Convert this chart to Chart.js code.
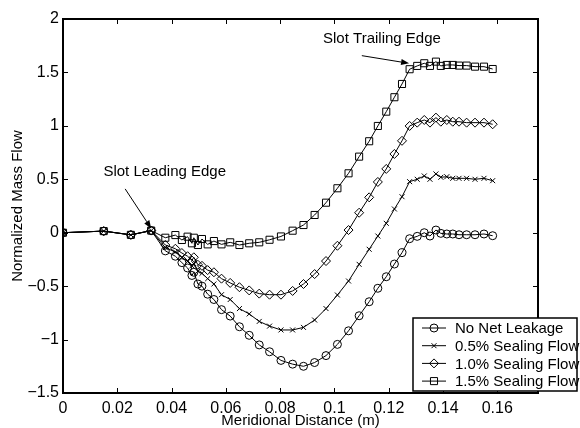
<!DOCTYPE html>
<html>
<head>
<meta charset="utf-8">
<script src="https://cdn.jsdelivr.net/npm/chart.js@4/dist/chart.umd.min.js"></script>
<style>
  html, body { margin: 0; padding: 0; background: #fff; }
</style>
</head>
<body>
<canvas id="flowChart" width="580" height="428"></canvas>
<script>
// Meridional distance (m), shared by all four cases
const meridional = [0, 0.015, 0.025, 0.0325, 0.0377, 0.0414, 0.0438, 0.0459, 0.0475, 0.0482,
  0.0497, 0.0512, 0.0533, 0.0556, 0.0584, 0.0616, 0.0650, 0.0686, 0.0723, 0.0761,
  0.0803, 0.0846, 0.0886, 0.0927, 0.0969, 0.1011, 0.1052, 0.1091, 0.1128, 0.1160,
  0.1191, 0.1221, 0.1249, 0.1277, 0.1305, 0.1331, 0.1352, 0.1374, 0.1392, 0.1414,
  0.1436, 0.1459, 0.1487, 0.1518, 0.1551, 0.1583];

const noNetLeakage = [0, 0.015, -0.02, 0.02, -0.17, -0.22, -0.28, -0.33, -0.40, -0.37,
  -0.48, -0.50, -0.575, -0.625, -0.72, -0.78, -0.88, -0.96, -1.05, -1.114,
  -1.195, -1.23, -1.25, -1.215, -1.15, -1.045, -0.918, -0.777, -0.646, -0.52,
  -0.412, -0.293, -0.187, -0.056, -0.034, 0.0, -0.031, 0.025, -0.006, -0.012,
  -0.012, -0.019, -0.019, -0.019, -0.012, -0.028];

const sealing05 = [0, 0.015, -0.02, 0.02, -0.14, -0.18, -0.23, -0.27, -0.31, -0.29,
  -0.36, -0.38, -0.43, -0.48, -0.58, -0.625, -0.71, -0.76, -0.83, -0.874,
  -0.91, -0.91, -0.886, -0.817, -0.71, -0.583, -0.452, -0.296, -0.155, -0.031,
  0.088, 0.222, 0.337, 0.478, 0.50, 0.531, 0.50, 0.55, 0.519, 0.524,
  0.509, 0.509, 0.509, 0.50, 0.509, 0.487];

const sealing10 = [0, 0.015, -0.02, 0.02, -0.115, -0.15, -0.19, -0.22, -0.26, -0.23,
  -0.30, -0.31, -0.35, -0.37, -0.43, -0.47, -0.51, -0.54, -0.57, -0.58,
  -0.58, -0.545, -0.48, -0.387, -0.265, -0.122, 0.025, 0.187, 0.331, 0.475,
  0.597, 0.737, 0.86, 0.999, 1.03, 1.055, 1.03, 1.077, 1.039, 1.055,
  1.039, 1.039, 1.03, 1.03, 1.03, 1.015];

const sealing15 = [0, 0.015, -0.02, 0.02, -0.047, -0.022, -0.068, -0.037, -0.099, -0.047,
  -0.115, -0.059, -0.109, -0.078, -0.109, -0.09, -0.115, -0.099, -0.09, -0.066,
  -0.035, 0.019, 0.072, 0.166, 0.281, 0.416, 0.556, 0.712, 0.856, 0.999,
  1.133, 1.268, 1.392, 1.53, 1.561, 1.586, 1.561, 1.601, 1.561, 1.57,
  1.57, 1.564, 1.564, 1.554, 1.554, 1.532];

const seriesLabels = ['No Net Leakage', '0.5% Sealing Flow', '1.0% Sealing Flow', '1.5% Sealing Flow'];
const xTicks = [0, 0.02, 0.04, 0.06, 0.08, 0.1, 0.12, 0.14, 0.16];
const yTicks = [-1.5, -1, -0.5, 0, 0.5, 1, 1.5, 2];

const FONT = 'Liberation Sans, Arial, Helvetica, sans-serif';

function toPoints(ys) {
    return meridional.map((x, i) => ({ x: x, y: ys[i] }));
}

function series(label, ys, style, radius) {
    return {
        label: label,
        data: toPoints(ys),
        showLine: true,
        borderColor: '#000',
        borderWidth: 1,
        backgroundColor: 'rgba(0,0,0,0)',
        pointStyle: style,
        pointRadius: radius,
        pointBorderColor: '#000',
        pointBorderWidth: 1,
        pointBackgroundColor: 'rgba(0,0,0,0)',
        tension: 0
    };
}

// inward tick marks on all four sides + top/right box edges
const boxTicks = {
    id: 'boxTicks',
    afterDraw(chart) {
        const ctx = chart.ctx;
        const a = chart.chartArea;
        const sx = chart.scales.x, sy = chart.scales.y;
        const len = 5;
        ctx.save();
        ctx.strokeStyle = '#000';
        ctx.lineWidth = 1;
        ctx.beginPath();
        xTicks.forEach(v => {
            const px = Math.round(sx.getPixelForValue(v)) + 0.5;
            ctx.moveTo(px, a.bottom); ctx.lineTo(px, a.bottom - len);
            ctx.moveTo(px, a.top); ctx.lineTo(px, a.top + len);
        });
        yTicks.forEach(v => {
            const py = Math.round(sy.getPixelForValue(v)) + 0.5;
            ctx.moveTo(a.left, py); ctx.lineTo(a.left + len, py);
            ctx.moveTo(a.right, py); ctx.lineTo(a.right - len, py);
        });
        ctx.stroke();
        ctx.lineWidth = 2;
        ctx.beginPath();
        ctx.moveTo(a.left, a.top); ctx.lineTo(a.right, a.top); ctx.lineTo(a.right, a.bottom);
        ctx.stroke();
        ctx.restore();
    }
};

function arrow(ctx, x1, y1, x2, y2) {
    const ang = Math.atan2(y2 - y1, x2 - x1);
    const hl = 8, hw = 3;
    ctx.beginPath();
    ctx.moveTo(x1, y1);
    ctx.lineTo(x2 - hl * Math.cos(ang), y2 - hl * Math.sin(ang));
    ctx.stroke();
    ctx.beginPath();
    ctx.moveTo(x2, y2);
    ctx.lineTo(x2 - hl * Math.cos(ang) + hw * Math.sin(ang), y2 - hl * Math.sin(ang) - hw * Math.cos(ang));
    ctx.lineTo(x2 - hl * Math.cos(ang) - hw * Math.sin(ang), y2 - hl * Math.sin(ang) + hw * Math.cos(ang));
    ctx.closePath();
    ctx.fill();
}

// slot edge annotations, placed in data coordinates
const slotNotes = {
    id: 'slotNotes',
    afterDraw(chart) {
        const ctx = chart.ctx;
        const sx = chart.scales.x, sy = chart.scales.y;
        const X = v => sx.getPixelForValue(v), Y = v => sy.getPixelForValue(v);
        ctx.save();
        ctx.fillStyle = '#000';
        ctx.strokeStyle = '#000';
        ctx.lineWidth = 1;
        ctx.font = '15px ' + FONT;
        ctx.textBaseline = 'middle';
        ctx.fillText('Slot Leading Edge', X(0.0149), Y(0.57));
        ctx.fillText('Slot Trailing Edge', X(0.0958), Y(1.81));
        arrow(ctx, X(0.0229), Y(0.41), X(0.0325), Y(0.04));
        arrow(ctx, X(0.1101), Y(1.657), X(0.1275), Y(1.585));
        ctx.restore();
    }
};

// boxed legend in the lower right, overlapping the axes like the original
const boxLegend = {
    id: 'boxLegend',
    afterDraw(chart) {
        const ctx = chart.ctx;
        const a = chart.chartArea;
        const left = a.right - 125, top = a.bottom - 75;
        const right = left + 164, bottom = a.bottom - 2;
        ctx.save();
        ctx.fillStyle = '#fff';
        ctx.fillRect(left, top, right - left, bottom - top);
        ctx.strokeStyle = '#000';
        ctx.lineWidth = 1.5;
        ctx.strokeRect(left, top, right - left, bottom - top);
        ctx.font = '15px ' + FONT;
        ctx.textBaseline = 'middle';
        chart.data.datasets.forEach((ds, i) => {
            const cy = top + 10 + i * 17.7;
            ctx.lineWidth = 1;
            ctx.beginPath();
            ctx.moveTo(left + 9, cy); ctx.lineTo(left + 33, cy);
            ctx.stroke();
            ctx.fillStyle = 'rgba(0,0,0,0)';
            Chart.helpers.drawPoint(ctx, {
                pointStyle: ds.pointStyle, rotation: 0,
                radius: ds.pointRadius, borderWidth: 1
            }, left + 21, cy);
            ctx.fillStyle = '#000';
            ctx.fillText(ds.label, left + 42, cy + 1);
        });
        ctx.restore();
    }
};

const ctx = document.getElementById('flowChart').getContext('2d');
const flowChart = new Chart(ctx, {
    type: 'scatter',
    data: {
        datasets: [
            series(seriesLabels[0], noNetLeakage, 'circle', 4),
            series(seriesLabels[1], sealing05, 'crossRot', 3.5),
            series(seriesLabels[2], sealing10, 'rectRot', 4.5),
            series(seriesLabels[3], sealing15, 'rect', 5)
        ]
    },
    options: {
        responsive: false,
        animation: false,
        layout: { padding: { top: 19, right: 42, left: 0, bottom: 0 } },
        plugins: {
            legend: { display: false },
            tooltip: { enabled: false }
        },
        scales: {
            x: {
                type: 'linear',
                min: 0,
                max: 0.175,
                afterFit: s => { s.height = 35; },
                afterBuildTicks: s => { s.ticks = xTicks.map(v => ({ value: v })); },
                grid: { display: false, drawTicks: false },
                border: { display: true, color: '#000', width: 2 },
                ticks: {
                    color: '#000',
                    padding: 6,
                    maxRotation: 0,
                    font: { family: FONT, size: 16 },
                    callback: v => String(+v.toFixed(2))
                },
                title: {
                    display: true,
                    text: 'Meridional Distance (m)',
                    color: '#000',
                    padding: { top: 0, bottom: -2 },
                    font: { family: FONT, size: 15 }
                }
            },
            y: {
                type: 'linear',
                min: -1.5,
                max: 2,
                afterFit: s => { s.width = 63; },
                afterBuildTicks: s => { s.ticks = yTicks.map(v => ({ value: v })); },
                grid: { display: false, drawTicks: false },
                border: { display: true, color: '#000', width: 2 },
                ticks: {
                    color: '#000',
                    padding: 4,
                    font: { family: FONT, size: 16 },
                    callback: v => String(+v.toFixed(2)).replace('-', '\u2212')
                },
                title: {
                    display: true,
                    text: 'Normalized Mass Flow',
                    color: '#000',
                    padding: { top: 9, bottom: 0 },
                    font: { family: FONT, size: 15 }
                }
            }
        }
    },
    plugins: [boxTicks, slotNotes, boxLegend]
});
</script>
</body>
</html>
